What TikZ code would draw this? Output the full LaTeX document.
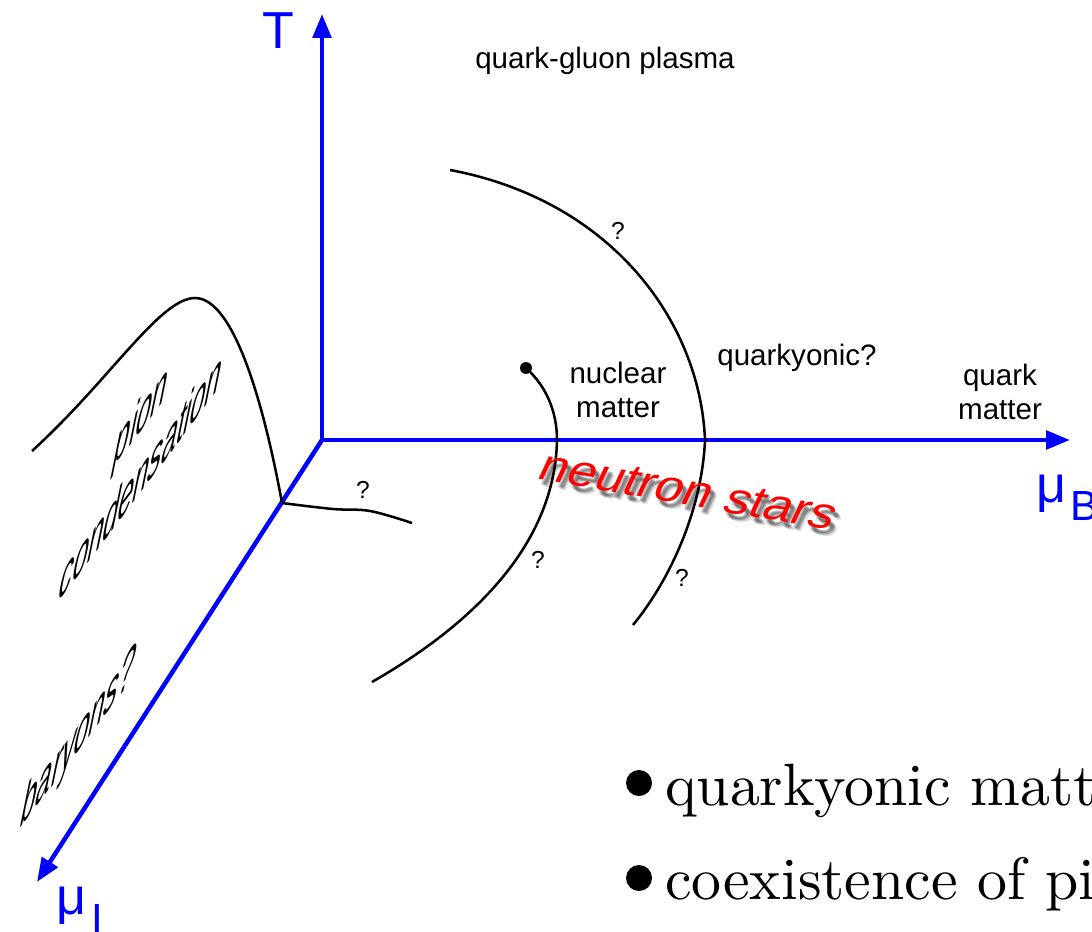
\documentclass[tikz,border=0pt]{standalone}
\usepackage{fontspec}
\newfontfamily\lsans{Liberation Sans}
\newfontfamily\lmten{lmroman10-regular.otf}
\usetikzlibrary{arrows.meta}
\begin{document}
\begin{tikzpicture}[x=0.025cm, y=-0.025cm,
  >={Triangle[length=17pt,width=13pt]},
  axisline/.style={blue, line width=3.2pt},
  curve/.style={black, line width=1.8pt},
  lbl/.style={font=\lsans\fontsize{21}{24}\selectfont, inner sep=0pt, align=center},
  qmark/.style={font=\lsans\fontsize{17.5}{20}\selectfont, inner sep=0pt},
  axlbl/.style={font=\lsans\fontsize{37}{40}\selectfont, text=blue, inner sep=0pt},
  sublbl/.style={font=\lsans\fontsize{30}{32}\selectfont, text=blue, inner sep=0pt},
  planetext/.style={font=\lsans\fontsize{36}{42}\selectfont, inner sep=0pt, cm={0.535,0.710,0.26,1.28,(0,0)}},
  nstext/.style={font=\lsans\fontsize{33}{36}\selectfont, inner sep=0pt, cm={1.084,-0.191,0.423,0.906,(0,0)}},
  bigtext/.style={font=\lmten\fontsize{42.5}{50}\selectfont, inner sep=0pt, anchor=base west},
  bulletdot/.style={circle, fill=black, inner sep=0pt, minimum size=18.5pt}]
\useasboundingbox (0,0) rectangle (1092,932);
\clip (0,0) rectangle (1092,932);
% axes
\coordinate (O) at (322,440);
\coordinate (Tt) at (322,14);
\coordinate (Bt) at (1070,440);
\coordinate (It) at (37,882);
\draw[axisline, <->] (Tt) -- (O) -- (Bt);
\draw[axisline, ->] (O) -- (It);
% axis labels
\node[axlbl] (T) at (278,31) {T};
\node[axlbl, anchor=base west] (muB) at (1036,502) {μ};
\node[sublbl, anchor=base west] (subB) at (1070,520) {B};
\node[axlbl, anchor=base west] (muI) at (56,914) {μ};
\node[sublbl, anchor=base west] (subI) at (91,933) {I};
% phase boundaries
\draw[curve] (32,451) .. controls (110,380) and (160,298) .. (195,298)
                      .. controls (235,298) and (265,410) .. (282,503);
\draw[curve] plot[smooth, tension=0.6] coordinates {(282,503) (333,509) (370,511) (412,523)};
\draw[curve] (450,170) .. controls (610,200) and (700,320) .. (705,440);
\draw[curve] (705,440) .. controls (702,510) and (670,580) .. (633,625);
\node[circle, fill=black, inner sep=0pt, minimum size=8.5pt] (cp) at (526,368) {};
\draw[curve] (cp.center) .. controls (545,385) and (557,410) .. (557,440);
\draw[curve] (557,440) .. controls (555,540) and (480,620) .. (372,682);
% labels
\node[lbl] (qgp) at (605,61) {quark-gluon plasma};
\node[lbl] (nm) at (618,390) {nuclear\\matter};
\node[lbl] (qy) at (797,358) {quarkyonic?};
\node[lbl] (qmat) at (1000,392) {quark\\matter};
\node[qmark] (q1) at (618,231) {?};
\node[qmark] (q2) at (363,490) {?};
\node[qmark] (q3) at (538,560) {?};
\node[qmark] (q4) at (682,578) {?};
% texts in the T-muI plane
\node[planetext] (pion) at (141,419) {pion};
\node[planetext] (cond) at (142,474) {condensation};
\node[planetext] (bar) at (78,740) {baryons?};
% neutron stars with shadow
\foreach \dx/\dy in {3/5, 5/6, 4/7, 6/8, 4/5, 2/6}
  \node[nstext, text=black, opacity=0.12] at (689+\dx,491+\dy) {neutron stars};
\node[nstext, text=red] (ns) at (689,491) {neutron stars};
% bullets
\node[bulletdot] (d1) at (639,783) {};
\node[bigtext] (b1) at (665,805) {quarkyonic matt};
\node[bulletdot] (d2) at (639,878) {};
\node[bigtext] (b2) at (665,899) {coexistence of pi};
\end{tikzpicture}
\end{document}
